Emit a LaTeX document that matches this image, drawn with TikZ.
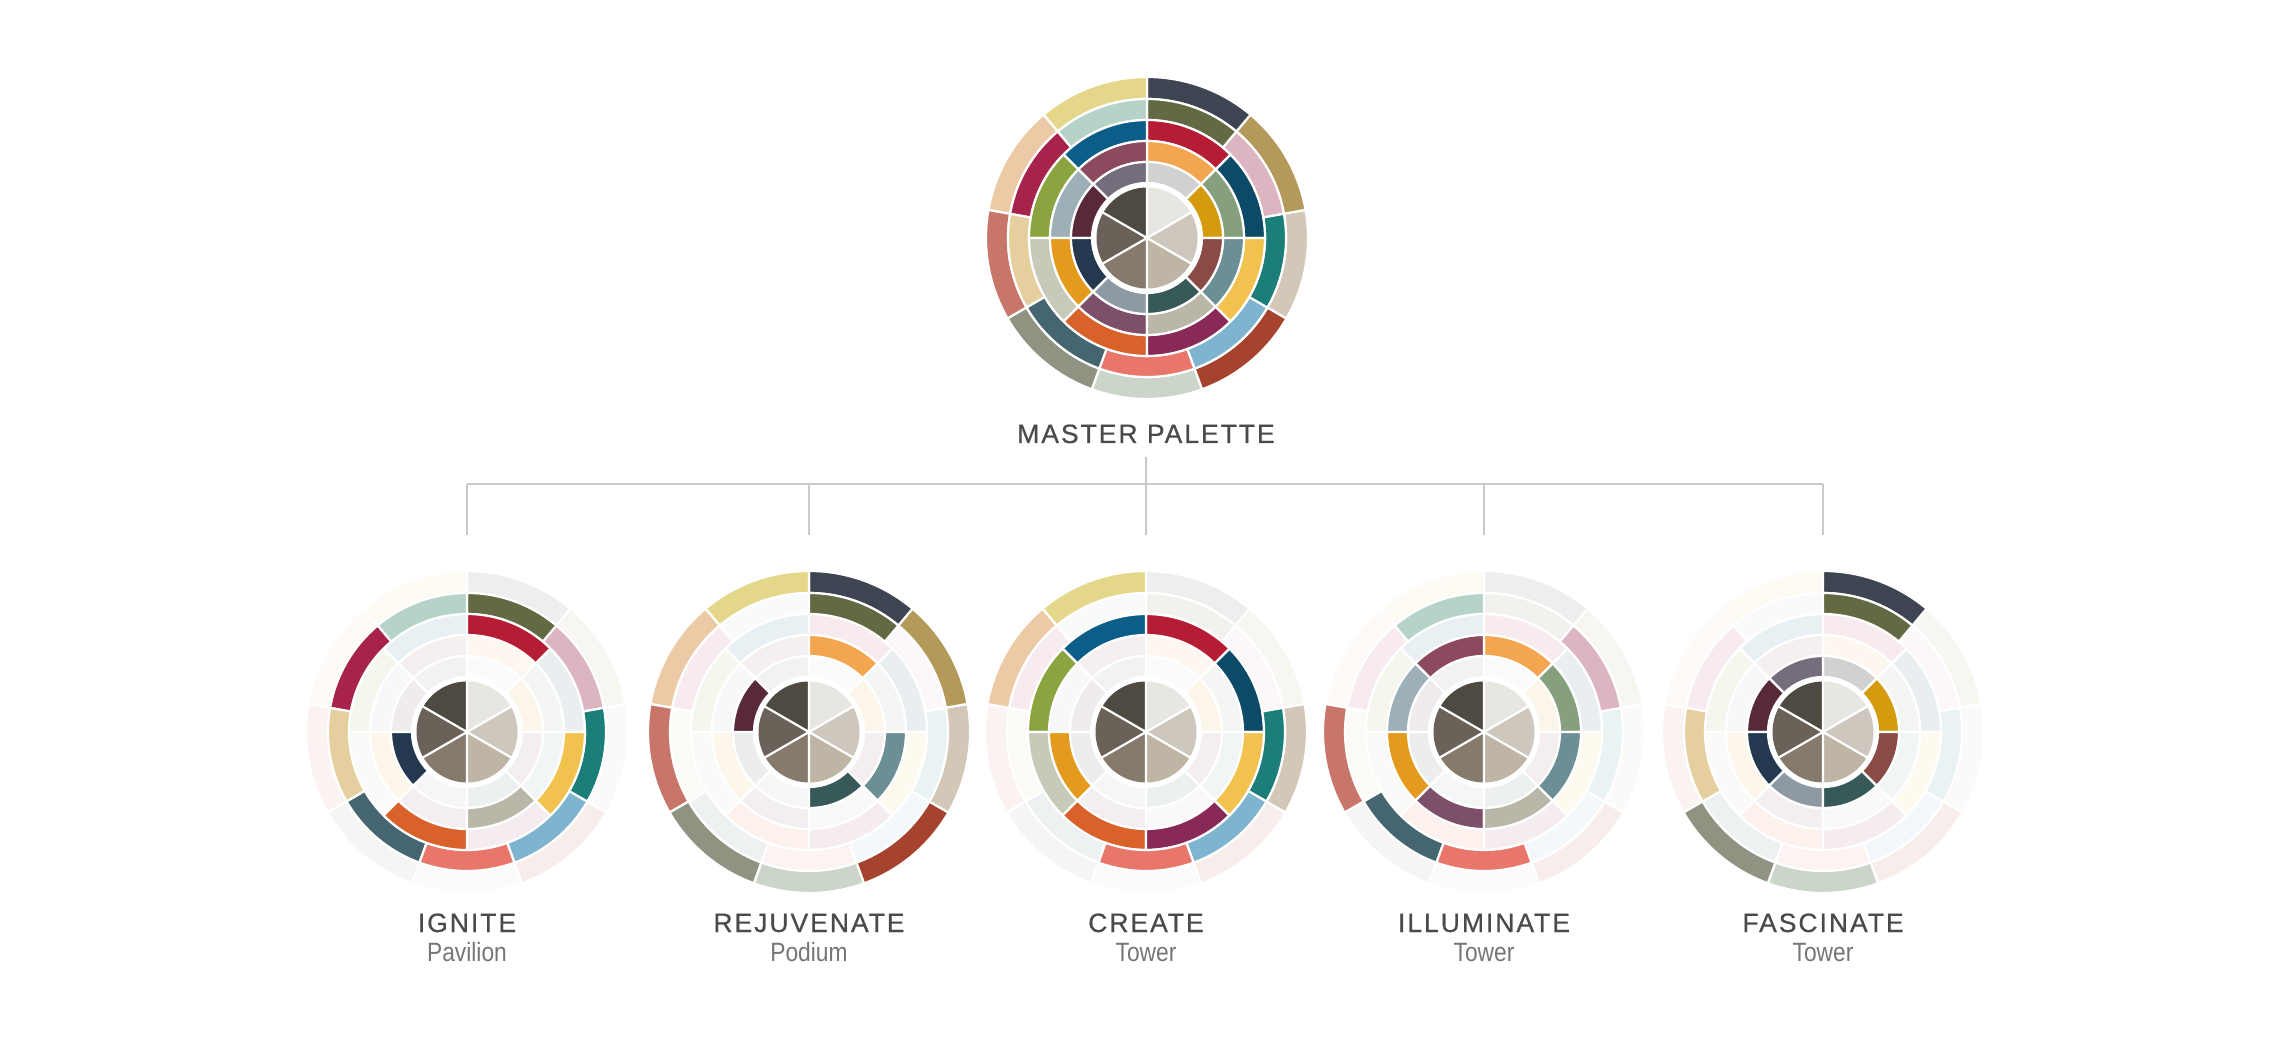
\documentclass[tikz,border=0pt]{standalone}
\usepackage{fontspec}
\setmainfont{Liberation Sans}
\newfontfamily\capsfont[LetterSpace=7.5,FakeBold=0.6]{Liberation Sans}
\newfontfamily\subfont[FakeStretch=0.86]{Liberation Sans}
% ring A
\definecolor{A10}{HTML}{B39A5A}\definecolor{A50}{HTML}{3E4451}\definecolor{A90}{HTML}{E5D78A}
\definecolor{A130}{HTML}{ECCAA5}\definecolor{A170}{HTML}{C8766A}\definecolor{A210}{HTML}{8F9482}
\definecolor{A250}{HTML}{CCD5C9}\definecolor{A290}{HTML}{A5432E}\definecolor{A330}{HTML}{D3C7B7}
% ring B
\definecolor{B10}{HTML}{DCB5C0}\definecolor{B50}{HTML}{626A43}\definecolor{B90}{HTML}{B5D3C7}
\definecolor{B130}{HTML}{A8234C}\definecolor{B170}{HTML}{E6CF9F}\definecolor{B210}{HTML}{456670}
\definecolor{B250}{HTML}{E9766B}\definecolor{B290}{HTML}{7EB4CF}\definecolor{B330}{HTML}{1B7E79}
% ring C
\definecolor{C0}{HTML}{0D4A67}\definecolor{C45}{HTML}{B61D35}\definecolor{C90}{HTML}{0D5D89}
\definecolor{C135}{HTML}{8CA43F}\definecolor{C180}{HTML}{C6CAB8}\definecolor{C225}{HTML}{D9612A}
\definecolor{C270}{HTML}{892958}\definecolor{C315}{HTML}{F2C24F}
% ring D
\definecolor{D0}{HTML}{86A07E}\definecolor{D45}{HTML}{F3A550}\definecolor{D90}{HTML}{8B4A5D}
\definecolor{D135}{HTML}{9DB0B8}\definecolor{D180}{HTML}{E49B1D}\definecolor{D225}{HTML}{7D4F69}
\definecolor{D270}{HTML}{BAB7A9}\definecolor{D315}{HTML}{6B8F95}
% ring E
\definecolor{E0}{HTML}{D49B0E}\definecolor{E45}{HTML}{D1D1CF}\definecolor{E90}{HTML}{756C7C}
\definecolor{E135}{HTML}{58293A}\definecolor{E180}{HTML}{24394F}\definecolor{E225}{HTML}{8D9AA4}
\definecolor{E270}{HTML}{375A59}\definecolor{E315}{HTML}{8A4A45}
% disc
\definecolor{dTR}{HTML}{E8E6E1}\definecolor{dR}{HTML}{CDC7BE}\definecolor{dBR}{HTML}{BFB5A4}
\definecolor{dBL}{HTML}{857A6C}\definecolor{dL}{HTML}{6A6159}\definecolor{dTL}{HTML}{4E4A42}
\definecolor{capsgray}{HTML}{4A4A4A}\definecolor{subgray}{HTML}{767676}\definecolor{linegray}{HTML}{CACACA}
% ring geometry
\def\rinA{139}\def\routA{161}\def\spanA{40}
\def\rinB{118}\def\routB{139}\def\spanB{40}
\def\rinC{97}\def\routC{118}\def\spanC{45}
\def\rinD{76}\def\routD{97}\def\spanD{45}
\def\rinE{55}\def\routE{76}\def\spanE{45}
\newcommand\seg[3]{% ring, start angle, tint
  \edef\ro{\csname rout#1\endcsname}\edef\ri{\csname rin#1\endcsname}%
  \pgfmathsetmacro\segend{#2+\csname span#1\endcsname}%
  \filldraw[fill=#1#2!#3!white, draw=white, line width=2.2pt]
    (#2:\ro pt) arc[start angle=#2, end angle=\segend, radius=\ro pt]
    -- (\segend:\ri pt) arc[start angle=\segend, end angle=#2, radius=\ri pt] -- cycle;}
\newcommand\disc{%
  \fill[dTR] (0,0) -- (30:50.5pt) arc[start angle=30,end angle=90,radius=50.5pt] -- cycle;
  \fill[dTL] (0,0) -- (90:50.5pt) arc[start angle=90,end angle=150,radius=50.5pt] -- cycle;
  \fill[dL] (0,0) -- (150:50.5pt) arc[start angle=150,end angle=210,radius=50.5pt] -- cycle;
  \fill[dBL] (0,0) -- (210:50.5pt) arc[start angle=210,end angle=270,radius=50.5pt] -- cycle;
  \fill[dBR] (0,0) -- (270:50.5pt) arc[start angle=270,end angle=330,radius=50.5pt] -- cycle;
  \fill[dR] (0,0) -- (330:50.5pt) arc[start angle=330,end angle=390,radius=50.5pt] -- cycle;
  \draw[white, line width=2.2pt] (90:52pt) -- (270:52pt) (30:52pt) -- (210:52pt) (150:52pt) -- (330:52pt);}
\newcommand\wheelbase[2]{% tint
  \foreach \s in {10,50,...,330} {\seg{A}{\s}{#2}\seg{B}{\s}{#2}}
  \foreach \s in {0,45,...,315} {\seg{C}{\s}{#2}\seg{D}{\s}{#2}\seg{E}{\s}{#2}}}
\tikzset{
  conn/.style={draw=linegray, line width=2pt},
  capslabel/.style={anchor=base, inner sep=0pt, text=capsgray, font=\capsfont\fontsize{26.5}{30}\selectfont},
  sublabel/.style={anchor=base, inner sep=0pt, text=subgray, font=\subfont\fontsize{26.5}{30}\selectfont}
}
\begin{document}
\begin{tikzpicture}[x=1pt,y=1pt]
\fill[white] (0,0) rectangle (2292,1042);
\useasboundingbox (0,0) rectangle (2292,1042);
% wheel centres
\coordinate (wM) at (1147,804);
\coordinate (w1) at (467,310);
\coordinate (w2) at (809,310);
\coordinate (w3) at (1146,310);
\coordinate (w4) at (1484,310);
\coordinate (w5) at (1823,310);
% master wheel
\begin{scope}[shift={(wM)}]
  \wheelbase{}{100}\disc
\end{scope}
% IGNITE
\begin{scope}[shift={(w1)}]
  \wheelbase{}{9}
  \foreach \s in {10,50,...,330} {\seg{B}{\s}{100}}
  \seg{C}{45}{100}\seg{C}{315}{100}\seg{C}{225}{100}
  \seg{D}{270}{100}\seg{E}{180}{100}
  \disc
\end{scope}
% REJUVENATE
\begin{scope}[shift={(w2)}]
  \wheelbase{}{9}
  \foreach \s in {10,50,...,330} {\seg{A}{\s}{100}}
  \seg{B}{50}{100}\seg{D}{45}{100}\seg{D}{315}{100}
  \seg{E}{135}{100}\seg{E}{270}{100}
  \disc
\end{scope}
% CREATE
\begin{scope}[shift={(w3)}]
  \wheelbase{}{9}
  \foreach \s in {0,45,...,315} {\seg{C}{\s}{100}}
  \seg{A}{90}{100}\seg{A}{130}{100}\seg{A}{330}{100}
  \seg{B}{330}{100}\seg{B}{290}{100}\seg{B}{250}{100}
  \seg{D}{180}{100}
  \disc
\end{scope}
% ILLUMINATE
\begin{scope}[shift={(w4)}]
  \wheelbase{}{9}
  \foreach \s in {0,45,...,315} {\seg{D}{\s}{100}}
  \seg{B}{90}{100}\seg{B}{10}{100}\seg{B}{210}{100}\seg{B}{250}{100}
  \seg{A}{170}{100}
  \disc
\end{scope}
% FASCINATE
\begin{scope}[shift={(w5)}]
  \wheelbase{}{9}
  \foreach \s in {0,45,...,315} {\seg{E}{\s}{100}}
  \seg{A}{50}{100}\seg{B}{50}{100}\seg{B}{170}{100}
  \seg{A}{210}{100}\seg{A}{250}{100}
  \disc
\end{scope}
% labels
\node[capslabel] (mlabel) at (1146,599) {MASTER PALETTE};
\node[capslabel] (t1) at (467,110) {IGNITE};
\node[sublabel]  (s1) at (467,81) {Pavilion};
\node[capslabel] (t2) at (809,110) {REJUVENATE};
\node[sublabel]  (s2) at (809,81) {Podium};
\node[capslabel] (t3) at (1146,110) {CREATE};
\node[sublabel]  (s3) at (1146,81) {Tower};
\node[capslabel] (t4) at (1484,110) {ILLUMINATE};
\node[sublabel]  (s4) at (1484,81) {Tower};
\node[capslabel] (t5) at (1823,110) {FASCINATE};
\node[sublabel]  (s5) at (1823,81) {Tower};
% connectors
\coordinate (mtop) at (1146,585);
\coordinate (bus) at (1146,558);
\coordinate (b1) at (467,558);
\coordinate (b2) at (809,558);
\coordinate (b3) at (1146,558);
\coordinate (b4) at (1484,558);
\coordinate (b5) at (1823,558);
\coordinate (d1) at (467,507);
\coordinate (d2) at (809,507);
\coordinate (d3) at (1146,507);
\coordinate (d4) at (1484,507);
\coordinate (d5) at (1823,507);
\draw[conn] (mtop) -- (bus);
\draw[conn] (b1) -- (b5);
\foreach \i in {1,...,5} {\draw[conn] (b\i) -- (d\i);}
\end{tikzpicture}
\end{document}
